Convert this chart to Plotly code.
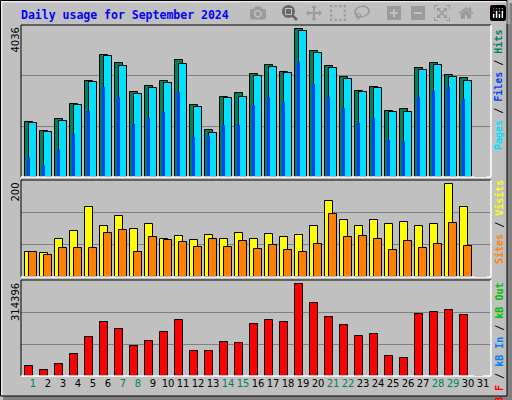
import plotly.graph_objects as go
from plotly.subplots import make_subplots

days = list(range(1, 32))
hits = [1492, 1246, 1582, 1982, 2637, 3346, 3128, 2310, 2500, 2637, 3210, 1955, 1273, 2200, 2283,
        2828, 3073, 2882, 4036, 3455, 3046, 2746, 2337, 2473, 1792, 1846, 2991, 3128, 2800, 2719, 0]
pages = [1464, 1219, 1519, 1955, 2610, 3319, 3046, 2255, 2419, 2582, 3101, 1901, 1192, 2146, 2200,
         2773, 3019, 2855, 4000, 3400, 2991, 2691, 2310, 2446, 1764, 1764, 2937, 3073, 2746, 2637, 0]
files = [537, 319, 728, 1164, 1792, 2473, 2200, 1437, 1601, 1764, 2310, 1083, 1110, 1410, 1410,
         1955, 2200, 2037, 3155, 2555, 2173, 1874, 1464, 1601, 1001, 973, 2200, 2337, 2473, 2119, 0]
visits = [55, 51, 83, 99, 150, 109, 131, 103, 114, 83, 88, 79, 90, 83, 96,
          83, 92, 86, 90, 109, 165, 124, 109, 122, 114, 118, 109, 114, 200, 152, 0]
sites = [55, 47, 62, 62, 62, 96, 101, 55, 86, 79, 75, 64, 81, 64, 77,
         60, 68, 58, 53, 71, 137, 86, 88, 81, 58, 77, 62, 71, 116, 66, 0]
kbytes = [33250, 19540, 40100, 74400, 132700, 184100, 160100, 101800, 119000, 149800, 190900, 84700,
          84700, 115500, 112100, 177200, 190900, 184100, 314396, 249200, 201200, 173800, 136100,
          143000, 67500, 60700, 211500, 218400, 225200, 208100, 0]
weekend = [1, 7, 8, 14, 15, 21, 22, 28, 29]

W, H = 512, 400
L, R, T, B = 21, 491, 25, 376


def px(x):
    return (x - L) / (R - L)


def py(y):
    return (B - y) / (B - T)


fig = make_subplots(rows=3, cols=1, shared_xaxes=True, vertical_spacing=0)
line = dict(color="black", width=1)
fig.add_bar(x=days, y=hits, offset=-0.53, width=0.53, marker=dict(color="#00805C", line=line), row=1, col=1)
fig.add_bar(x=days, y=pages, offset=-0.27, width=0.53, marker=dict(color="#00E0FF", line=line), row=1, col=1)
fig.add_bar(x=days, y=files, offset=-0.42, width=0.2, marker=dict(color="#0040FF", line=dict(width=0)), row=1, col=1)
fig.add_bar(x=days, y=visits, offset=-0.53, width=0.55, marker=dict(color="#FFFF00", line=line), row=2, col=1)
fig.add_bar(x=days, y=sites, offset=-0.27, width=0.53, marker=dict(color="#FF8000", line=line), row=2, col=1)
fig.add_bar(x=days, y=kbytes, offset=-0.53, width=0.5, marker=dict(color="#FF0000", line=line), row=3, col=1)

ranges = [4154, 209.3, 329140]
domains = [[py(177), 1], [py(277), py(180)], [0, py(280)]]
for i in range(3):
    n = "" if i == 0 else str(i + 1)
    fig.layout["yaxis" + n].update(domain=domains[i], range=[0, ranges[i]],
                                   tickvals=[ranges[i] / 3, ranges[i] * 2 / 3], showticklabels=False,
                                   gridcolor="#808080", gridwidth=1, zeroline=False, fixedrange=True)
    fig.layout["xaxis" + n].update(range=[0.2, 31.53], showgrid=False, zeroline=False)
    yd = domains[i]
    fig.add_shape(type="line", xref="paper", yref="paper", x0=0, x1=0, y0=yd[0], y1=yd[1], line=dict(color="black", width=1))
    fig.add_shape(type="line", xref="paper", yref="paper", x0=0, x1=1, y0=yd[1], y1=yd[1], line=dict(color="black", width=1))
    fig.add_shape(type="line", xref="paper", yref="paper", x0=1, x1=1, y0=yd[0], y1=yd[1], line=dict(color="white", width=1.5))
    fig.add_shape(type="line", xref="paper", yref="paper", x0=0, x1=1, y0=yd[0], y1=yd[0], line=dict(color="white", width=1.5))

ticktext = [f"<span style='color:#00805C'>{d}</span>" if d in weekend else str(d) for d in days]
fig.update_xaxes(tickvals=days, ticktext=ticktext, showticklabels=True, ticks="", row=3, col=1,
                 tickfont=dict(family="DejaVu Sans", size=10, color="black"))

# outer frame with bevel
fig.add_shape(type="rect", xref="paper", yref="paper", x0=px(507), x1=px(512), y0=py(400), y1=py(3),
              fillcolor="#808080", line=dict(width=0), layer="below")
fig.add_shape(type="rect", xref="paper", yref="paper", x0=px(3), x1=px(512), y0=py(400), y1=py(396),
              fillcolor="#808080", line=dict(width=0), layer="below")
fig.add_shape(type="rect", xref="paper", yref="paper", x0=px(0.5), x1=px(507), y0=py(396), y1=py(0.5),
              line=dict(color="black", width=1), layer="below")
fig.add_shape(type="line", xref="paper", yref="paper", x0=px(1.5), x1=px(506), y0=py(1.8), y1=py(1.8),
              line=dict(color="white", width=1), layer="below")
fig.add_shape(type="line", xref="paper", yref="paper", x0=px(1.8), x1=px(1.8), y0=py(395), y1=py(1.5),
              line=dict(color="white", width=1), layer="below")

fig.add_annotation(text="Daily usage for September 2024", xref="paper", yref="paper", x=px(19), y=py(15),
                   xanchor="left", yanchor="middle", showarrow=False,
                   font=dict(family="DejaVu Sans Mono", size=11.5, color="#0000FF", weight="bold"))

maxlabels = ["4036", "200", "314396"]
tops = [26, 181, 281]
for lab, top in zip(maxlabels, tops):
    fig.add_annotation(text=lab, xref="paper", yref="paper", x=px(15), y=py(top), xanchor="center",
                       yanchor="top", textangle=-90, showarrow=False,
                       font=dict(family="DejaVu Sans", size=10, color="black"))

sl = "<span style='color:black'> / </span>"
rlabels = [
    "<span style='color:#00E0FF'>Pages</span>" + sl + "<span style='color:#0040FF'>Files</span>" + sl
    + "<span style='color:#00805C'>Hits</span>",
    "<span style='color:#FF8000'>Sites</span>" + sl + "<span style='color:#FFFF00'>Visits</span>",
    "<span style='color:#FF0000'>kB F</span>" + sl + "<span style='color:#0080FF'>kB In</span>" + sl
    + "<span style='color:#00C000'>kB Out</span>",
]
rtops = [28, 178, 281]
for lab, top in zip(rlabels, rtops):
    fig.add_annotation(text=lab, xref="paper", yref="paper", x=px(499), y=py(top), xanchor="center",
                       yanchor="top", textangle=-90, showarrow=False,
                       font=dict(family="DejaVu Sans Mono", size=10, weight="bold"))

fig.update_layout(width=W, height=H, margin=dict(l=L, r=W - R, t=T, b=H - B),
                  paper_bgcolor="#C0C0C0", plot_bgcolor="#C0C0C0", showlegend=False, barmode="overlay",
                  bargap=0)
fig.write_html("out.html", post_script="document.body.style.margin='0';")
